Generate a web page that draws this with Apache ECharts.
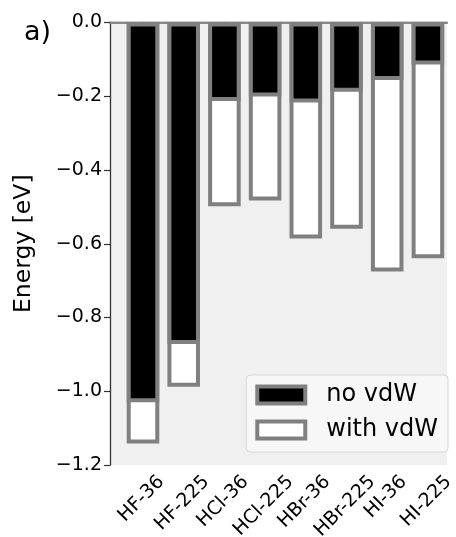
<!DOCTYPE html>
<html>
<head>
<meta charset="utf-8">
<script src="https://cdn.jsdelivr.net/npm/echarts@6/dist/echarts.min.js"></script>
<style>
html,body{margin:0;padding:0;background:#fff;}
#chart{width:456px;height:537px;}
</style>
</head>
<body>
<div id="chart"></div>
<script>
const categories = ['HF-36','HF-225','HCl-36','HCl-225','HBr-36','HBr-225','HI-36','HI-225'];
const noVdW = [-1.03,-0.872,-0.213,-0.201,-0.217,-0.188,-0.156,-0.114];
const withVdW = [-1.142,-0.988,-0.498,-0.483,-0.586,-0.559,-0.675,-0.639];
const yMin = -1.2, yMax = 0, yInterval = 0.2;
const seriesNames = ['no vdW','with vdW'];

const FONT = '"DejaVu Sans", sans-serif';
const EDGE = '#808080';
const LABEL_FS = 19;

const measureCtx = document.createElement('canvas').getContext('2d');
measureCtx.font = LABEL_FS + 'px "DejaVu Sans"';
function textW(t){ return measureCtx.measureText(t).width; }

const chart = echarts.init(document.getElementById('chart'), null, {renderer:'canvas'});
const option = {
  animation: false,
  backgroundColor: '#fff',
  graphic: [{
    type: 'text', left: 24, top: 19,
    style: {text: 'a)', font: '27px ' + FONT, fill: '#000'}
  }],
  grid: [
    {left: 110, right: 9, top: 22.5, bottom: 72, show: true, backgroundColor: '#f0f0f0', borderWidth: 0},
    {left: 122.65, right: 7.75, top: 22.5, bottom: 72, show: false}
  ],
  xAxis: [
    {type: 'value', gridIndex: 0, min: 0, max: 1, position: 'bottom',
     axisLine: {show: true, lineStyle: {color: '#333', width: 1.3}},
     axisTick: {show: false}, axisLabel: {show: false}, splitLine: {show: false}},
    {type: 'value', gridIndex: 0, min: 0, max: 1, position: 'top',
     axisLine: {show: true, lineStyle: {color: '#888', width: 2}},
     axisTick: {show: false}, axisLabel: {show: false}, splitLine: {show: false}},
    {type: 'category', gridIndex: 1, data: categories, position: 'bottom',
     axisLine: {show: false},
     axisTick: {show: true, alignWithLabel: true, length: 6, lineStyle: {color: '#333', width: 1.2}},
     axisLabel: {show: false}, splitLine: {show: false}}
  ],
  yAxis: [
    {type: 'value', gridIndex: 0, min: yMin, max: yMax, interval: yInterval,
     name: 'Energy [eV]', nameLocation: 'middle', nameGap: 74,
     nameTextStyle: {fontFamily: FONT, fontSize: 23.5, color: '#000'},
     axisLine: {show: true, lineStyle: {color: '#333', width: 1.3}},
     axisTick: {show: true, length: 6, lineStyle: {color: '#333', width: 1.2}},
     axisLabel: {fontFamily: FONT, fontSize: LABEL_FS, color: '#000', margin: 8,
       formatter: function(v){ return Math.abs(v) < 1e-9 ? '0.0' : (v < 0 ? '\u2212' : '') + Math.abs(v).toFixed(1); }},
     splitLine: {show: false}},
    {type: 'value', gridIndex: 1, min: yMin, max: yMax, show: false}
  ],
  legend: {
    data: [
      {name: 'no vdW', itemStyle: {color: '#000', borderColor: EDGE, borderWidth: 4}},
      {name: 'with vdW', itemStyle: {color: '#fff', borderColor: EDGE, borderWidth: 4}}
    ],
    orient: 'vertical', right: 8, bottom: 85,
    itemWidth: 48, itemHeight: 17, itemGap: 11,
    icon: 'rect',
    selectedMode: false,
    padding: [8, 10, 10, 9],
    backgroundColor: '#f7f7f7', borderColor: '#d6d6d6', borderWidth: 1, borderRadius: 4,
    textStyle: {fontFamily: FONT, fontSize: 24, color: '#000', padding: [0, 0, 0, 16]}
  },
  series: [
    {name: seriesNames[1], type: 'bar', xAxisIndex: 2, yAxisIndex: 1, data: withVdW,
     barWidth: '80%', barGap: '-100%',
     itemStyle: {color: '#fff', borderColor: EDGE, borderWidth: 4}},
    {name: seriesNames[0], type: 'bar', xAxisIndex: 2, yAxisIndex: 1, data: noVdW,
     barWidth: '80%', barGap: '-100%',
     itemStyle: {color: '#000', borderColor: EDGE, borderWidth: 4}},
    {type: 'custom', xAxisIndex: 2, yAxisIndex: 1, clip: false, silent: true,
     data: categories.map(function(c, i){ return [i, yMin]; }),
     renderItem: function(params, api){
       const i = api.value(0);
       const p = api.coord([i, yMin]);
       const txt = categories[i];
       const L = textW(txt);
       const H = (L + 14) * Math.SQRT1_2;
       return {
         type: 'text',
         x: p[0] - 1.5, y: p[1] + 9 + H / 2,
         rotation: Math.PI / 4,
         style: {text: txt, font: LABEL_FS + 'px ' + FONT, fill: '#000',
                 align: 'center', verticalAlign: 'middle'}
       };
     }}
  ]
};
chart.setOption(option);
</script>
</body>
</html>
